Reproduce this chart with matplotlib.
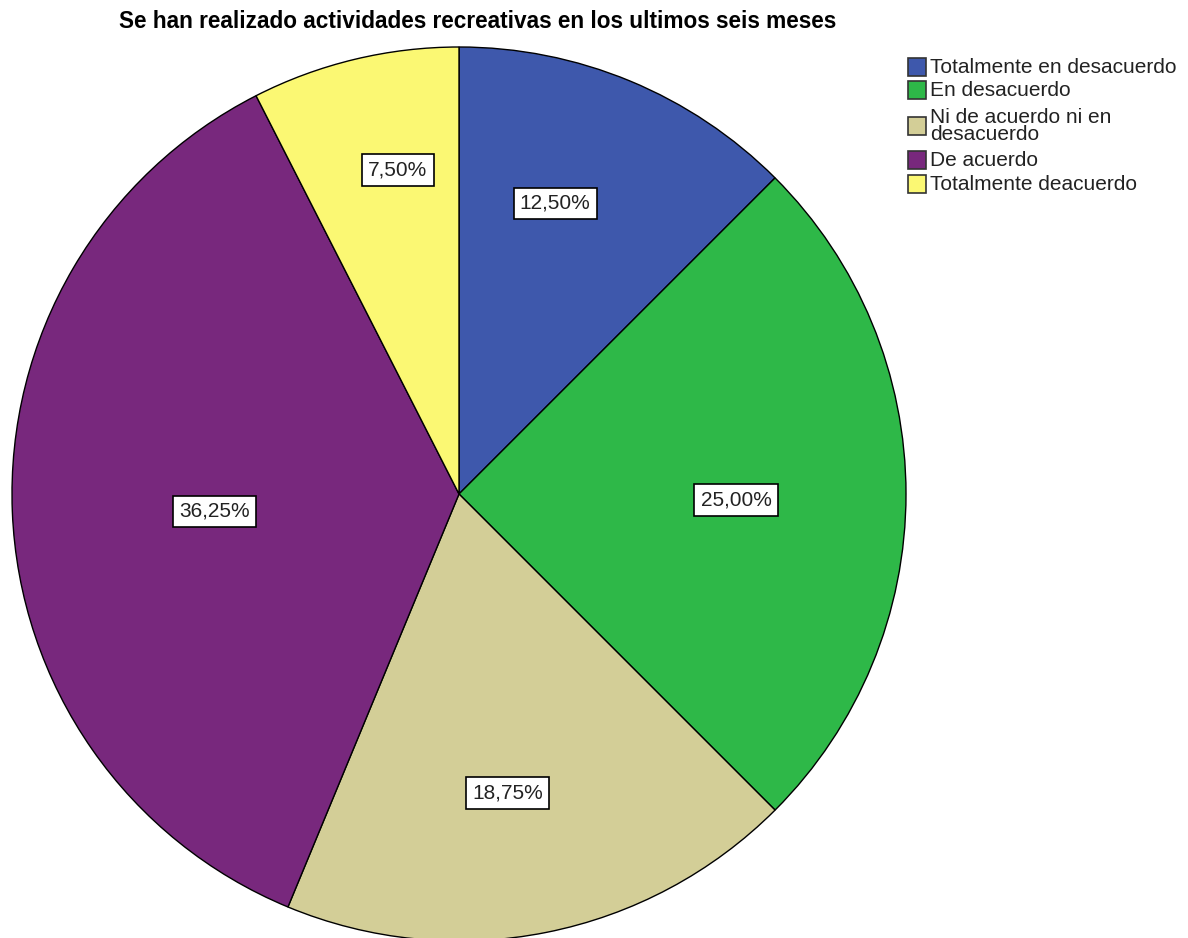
import matplotlib.pyplot as plt
from matplotlib.patches import Rectangle
import numpy as np

plt.rcParams['font.family'] = ['Liberation Sans', 'DejaVu Sans']

title = 'Se han realizado actividades recreativas en los ultimos seis meses'
categories = ['Totalmente en desacuerdo', 'En desacuerdo',
              'Ni de acuerdo ni en\ndesacuerdo', 'De acuerdo',
              'Totalmente deacuerdo']
percents = [12.50, 25.00, 18.75, 36.25, 7.50]
colors = ['#3e58ac', '#2eb848', '#d3ce97', '#78287d', '#fbf873']

W, H = 1188, 938
cx, cy, radius = 459, H - 494, 447
# label placement (fraction of radius, angle offset from wedge middle in degrees)
label_dist = [0.685, 0.62, 0.678, 0.549, 0.738]
label_shift = [4.2, -1.2, -2.0, 1.8, -2.8]
# legend rows (pixel y from top)
legend_rows = [67, 90, 126, 160, 184]

fig = plt.figure(figsize=(W / 100, H / 100), dpi=100)
ax = fig.add_axes([0, 0, 1, 1])

wedges, _ = ax.pie(percents, colors=colors, startangle=90, counterclock=False,
                   center=(cx, cy), radius=radius, frame=True,
                   wedgeprops=dict(edgecolor='black', linewidth=1))
ax.set_xlim(0, W)
ax.set_ylim(0, H)
ax.set_aspect('equal')
ax.axis('off')

for w, p, d, s in zip(wedges, percents, label_dist, label_shift):
    ang = np.deg2rad((w.theta1 + w.theta2) / 2 + s)
    x = cx + d * radius * np.cos(ang)
    y = cy + d * radius * np.sin(ang)
    ax.text(x, y, f'{p:.2f}%'.replace('.', ','), ha='center', va='center',
            fontsize=15, color='#222222',
            bbox=dict(boxstyle='square,pad=0.3', fc='white', ec='black', lw=1.2))

fig.text(478 / W, 1 - 22 / H, title, ha='center', va='center',
         fontsize=16.3, fontweight='bold')

# legend drawn by hand to follow the row layout of the original
for lab, c, ry in zip(categories, colors, legend_rows):
    y = H - ry
    ax.add_patch(Rectangle((908, y - 9), 18, 18, facecolor=c,
                           edgecolor='#333333', linewidth=1.2))
    ax.text(930, y, lab, ha='left', va='center', fontsize=15,
            color='#222222', linespacing=0.88)

fig.savefig('out.png', dpi=100)
